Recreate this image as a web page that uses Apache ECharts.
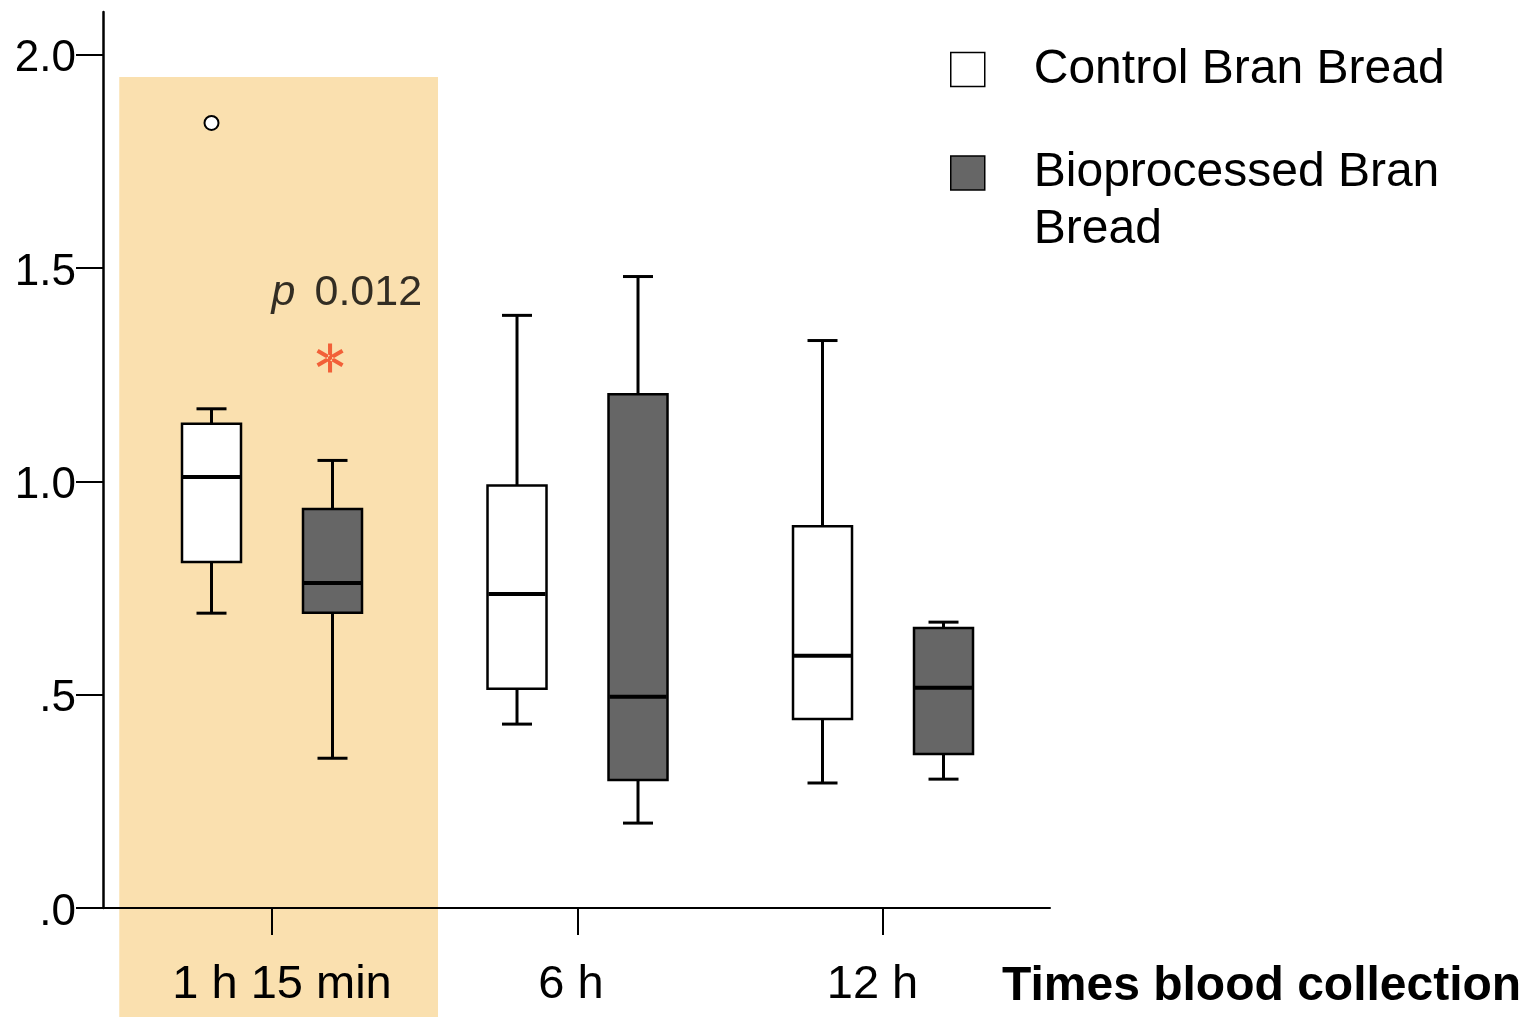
<!DOCTYPE html>
<html><head><meta charset="utf-8">
<script src="https://cdn.jsdelivr.net/npm/echarts@6/dist/echarts.min.js"></script>
<style>html,body{margin:0;padding:0;background:#fff}#c{width:1524px;height:1017px}</style>
</head><body><div id="c"></div>
<script>
// ---------- data ----------
const categories = ['1 h 15 min', '6 h', '12 h'];
const yTicks = [0, 0.5, 1.0, 1.5, 2.0];
const seriesNames = ['Control Bran Bread', 'Bioprocessed Bran Bread'];
// each row: [min, Q1, median, Q3, max]
const controlBox = [
  [0.691, 0.811, 1.010, 1.135, 1.170],
  [0.431, 0.514, 0.736, 0.990, 1.389],
  [0.293, 0.443, 0.591, 0.895, 1.330]
];
const bioBox = [
  [0.351, 0.692, 0.762, 0.935, 1.049],
  [0.199, 0.300, 0.495, 1.204, 1.480],
  [0.302, 0.361, 0.516, 0.656, 0.670]
];
const controlOutliers = [[0, 1.840]];   // [category index, value]
const highlightedCategory = 0;
const pValueText = '0.012';

// ---------- styling / layout ----------
const FONT = '"Liberation Sans", Arial, sans-serif';
const OFFSET = 60.5, HALF_W = 29.5, CAP_HALF = 15;

function boxRender(offset, fill) {
  return function (params, api) {
    const ci = api.value(0);
    const cx = api.coord([ci, 0])[0] + offset;
    const yMin = api.coord([ci, api.value(1)])[1];
    const yQ1 = api.coord([ci, api.value(2)])[1];
    const yMed = api.coord([ci, api.value(3)])[1];
    const yQ3 = api.coord([ci, api.value(4)])[1];
    const yMax = api.coord([ci, api.value(5)])[1];
    const ls = { stroke: '#000', lineWidth: 3 };
    return {
      type: 'group', children: [
        { type: 'line', shape: { x1: cx, y1: yMax, x2: cx, y2: yQ3 }, style: ls },
        { type: 'line', shape: { x1: cx - CAP_HALF, y1: yMax, x2: cx + CAP_HALF, y2: yMax }, style: ls },
        { type: 'line', shape: { x1: cx, y1: yQ1, x2: cx, y2: yMin }, style: ls },
        { type: 'line', shape: { x1: cx - CAP_HALF, y1: yMin, x2: cx + CAP_HALF, y2: yMin }, style: ls },
        { type: 'rect', shape: { x: cx - HALF_W, y: yQ3, width: 2 * HALF_W, height: yQ1 - yQ3 },
          style: { fill: fill, stroke: '#000', lineWidth: 2.5 } },
        { type: 'line', shape: { x1: cx - HALF_W + 1, y1: yMed, x2: cx + HALF_W - 1, y2: yMed },
          style: { stroke: '#000', lineWidth: 4 } }
      ]
    };
  };
}

const STAR = 'path://M43 0L57 0L57 100L43 100Z M89.8 81.06L96.8 68.94L10.2 18.94L3.2 31.06Z M10.2 81.06L3.2 68.94L89.8 18.94L96.8 31.06Z';
const XLABEL_STYLE = { fontFamily: FONT, fontSize: 47, color: '#000' };

const chart = echarts.init(document.getElementById('c'), null, { renderer: 'canvas' });
chart.setOption({
  animation: false,
  backgroundColor: '#fff',
  grid: { left: 103, right: 474, top: 12, bottom: 109, containLabel: false, outerBoundsMode: 'none' },
  title: {
    text: 'Times blood collection', left: 1002, top: 963, padding: 0,
    textStyle: { fontFamily: FONT, fontSize: 48, fontWeight: 'bold', color: '#000' }
  },
  legend: {
    orient: 'vertical', left: 950, top: 41, padding: 0, itemGap: -10.5,
    itemWidth: 34, itemHeight: 34, selectedMode: false,
    textStyle: { fontFamily: FONT, fontSize: 48, color: '#000', lineHeight: 57, padding: [0, 0, 0, 44] },
    formatter: function (n) { return n === seriesNames[1] ? '\nBioprocessed Bran\nBread' : n; },
    data: [
      { name: seriesNames[0], icon: 'rect', itemStyle: { color: '#fff', borderColor: '#000', borderWidth: 1.5 } },
      { name: seriesNames[1], icon: 'rect', itemStyle: { color: '#666666', borderColor: '#000', borderWidth: 1.5 } }
    ]
  },
  xAxis: {
    type: 'value', min: -0.5532, max: 2.5466,
    axisLine: { show: true, onZero: false, lineStyle: { color: '#000', width: 2 } },
    axisTick: { show: true, inside: false, length: 27, customValues: [0, 1, 2], lineStyle: { color: '#000', width: 2 } },
    axisLabel: {
      show: true, customValues: [0, 1, 2], margin: 54,
      formatter: function (v) { const i = Math.round(v); return '{c' + i + '|' + categories[i] + '}'; },
      rich: {
        c0: Object.assign({ padding: [0, 0, 0, 20] }, XLABEL_STYLE),
        c1: Object.assign({ padding: [0, 13, 0, 0] }, XLABEL_STYLE),
        c2: Object.assign({ padding: [0, 21, 0, 0] }, XLABEL_STYLE)
      },
      fontFamily: FONT, fontSize: 47, color: '#000'
    },
    splitLine: { show: false }
  },
  yAxis: {
    type: 'value', min: 0, max: 2.1,
    axisLine: { show: true, onZero: false, lineStyle: { color: '#000', width: 2.5 } },
    axisTick: { show: true, inside: false, length: 27, customValues: yTicks, lineStyle: { color: '#000', width: 2 } },
    axisLabel: {
      show: true, customValues: yTicks, margin: 27, verticalAlign: 'top', lineHeight: 9,
      formatter: function (v) { const s = v.toFixed(1); return v < 1 ? s.replace(/^0/, '') : s; },
      fontFamily: FONT, fontSize: 44, color: '#000'
    },
    splitLine: { show: false }
  },
  series: [
    {
      name: 'highlight', type: 'custom', z: -1, silent: true, clip: false,
      data: [[highlightedCategory, 0]], encode: { x: 0, y: 1 },
      renderItem: function (params, api) {
        const ci = api.value(0);
        const x0 = api.coord([ci - 0.5, 0])[0];
        const x1 = api.coord([ci + 0.5434, 0])[0];
        const yTop = api.coord([ci, 1.9476])[1];
        return { type: 'rect', shape: { x: x0, y: yTop, width: x1 - x0, height: api.getHeight() - yTop },
          style: { fill: '#FAE0AF' } };
      }
    },
    {
      name: seriesNames[0], type: 'custom', z: 3, clip: false,
      itemStyle: { color: '#fff', borderColor: '#000' },
      data: controlBox.map(function (b, i) { return [i].concat(b); }),
      encode: { x: 0, y: [1, 2, 3, 4, 5] },
      renderItem: boxRender(-OFFSET, '#ffffff')
    },
    {
      name: seriesNames[1], type: 'custom', z: 3, clip: false,
      itemStyle: { color: '#666666', borderColor: '#000' },
      data: bioBox.map(function (b, i) { return [i].concat(b); }),
      encode: { x: 0, y: [1, 2, 3, 4, 5] },
      renderItem: boxRender(OFFSET, '#666666')
    },
    {
      name: 'outliers', type: 'custom', z: 4, clip: false,
      data: controlOutliers, encode: { x: 0, y: 1 },
      renderItem: function (params, api) {
        const p = api.coord([api.value(0), api.value(1)]);
        return { type: 'circle', shape: { cx: p[0] - OFFSET, cy: p[1], r: 7 },
          style: { fill: '#fff', stroke: '#000', lineWidth: 2 } };
      }
    },
    {
      name: 'annotation', type: 'scatter', z: 5, silent: true,
      data: [
        { value: [0.19, 1.289], symbol: STAR, symbolSize: [27, 29], itemStyle: { color: '#F0401A' } },
        { value: [0.245, 1.441], symbol: 'circle', symbolSize: 1, itemStyle: { color: 'rgba(0,0,0,0)' },
          label: {
            show: true, position: 'inside',
            formatter: '{i|p}{n|' + pValueText + '}',
            rich: {
              i: { fontFamily: FONT, fontSize: 43, fontStyle: 'italic', color: '#000' },
              n: { fontFamily: FONT, fontSize: 43, color: '#000', padding: [0, 0, 0, 19] }
            }
          }
        }
      ]
    }
  ]
});
</script>
</body></html>
